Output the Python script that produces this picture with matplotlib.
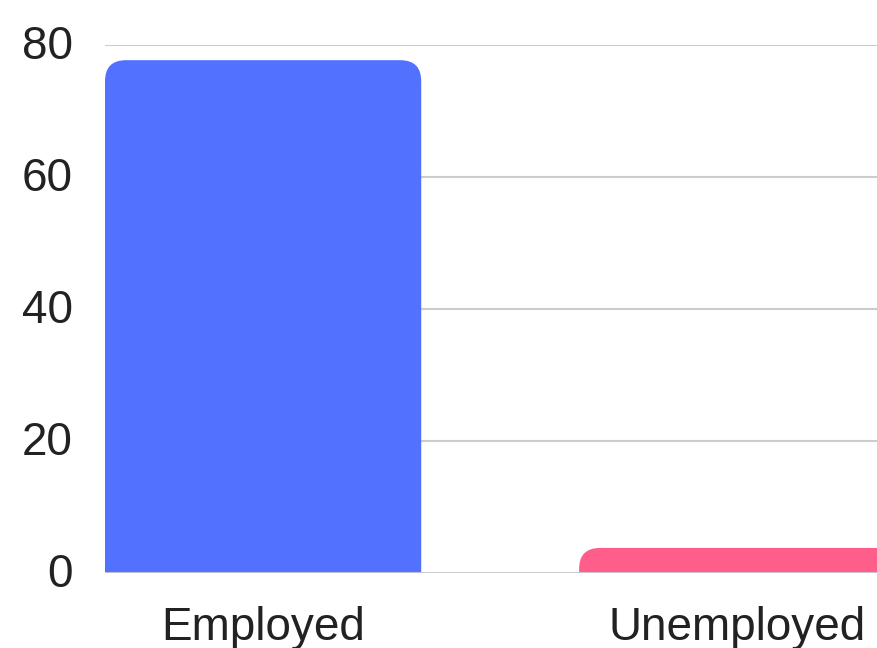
import matplotlib
matplotlib.use("Agg")
import matplotlib.pyplot as plt
import matplotlib.transforms as mtransforms
from matplotlib.patches import FancyBboxPatch

# chart data
categories = ["Employed", "Unemployed"]
values = [77.7, 3.8]
colors = ["#5271ff", "#ff5e8a"]
yticks = [0, 20, 40, 60, 80]

plt.rcParams["font.family"] = ["Liberation Sans", "DejaVu Sans"]

W, H = 878, 648
fig = plt.figure(figsize=(W / 100, H / 100), dpi=100)
ax = fig.add_axes([105 / W, 1 - 573 / H, 1 - 105 / W, (573 - 45) / H])

bar_w = 0.667
ax.set_xlim(-bar_w / 2, 1.297)
ax.set_ylim(0, 80)

# rounded top corners: radius in px converted to data units
radius_px = 21
x_per_px = (1.297 + bar_w / 2) / (W - 105)
y_per_px = 80 / (573 - 45)
aspect = y_per_px / x_per_px
r = radius_px * x_per_px

for i, (v, c) in enumerate(zip(values, colors)):
    bottom = -10
    box = FancyBboxPatch((i - bar_w / 2, bottom), bar_w, v - bottom,
                         boxstyle=f"round,pad=0,rounding_size={r}",
                         mutation_aspect=aspect, facecolor=c,
                         edgecolor="none", zorder=2)
    ax.add_patch(box)

for y in yticks[1:]:
    ax.axhline(y, color="#cccccc", lw=1.5, zorder=0)
ax.axhline(0, color="#c8c8d0", lw=1.5, zorder=3, alpha=0.9)

ax.set_yticks(yticks)
ax.set_xticks(range(len(categories)))
ax.set_xticklabels(categories)
ax.tick_params(axis="y", length=0, pad=23, labelsize=33, labelcolor="#222222")
ax.tick_params(axis="x", length=0, pad=24, labelsize=33, labelcolor="#222222")
for s in ax.spines.values():
    s.set_visible(False)

# nudge y labels up a little
shift = mtransforms.ScaledTranslation(0, 3 / 100, fig.dpi_scale_trans)
for lbl in ax.get_yticklabels():
    lbl.set_transform(lbl.get_transform() + shift)

fig.savefig("out.png", dpi=100)
